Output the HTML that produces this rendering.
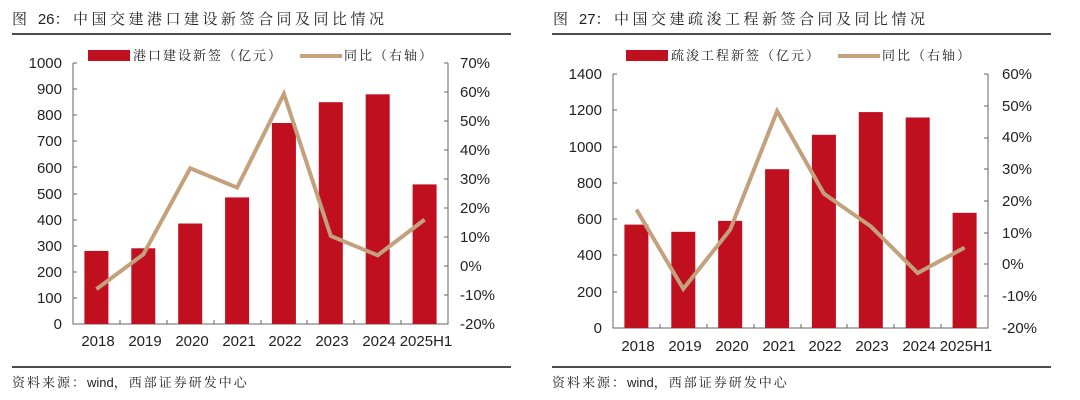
<!DOCTYPE html>
<html><head><meta charset="utf-8"><style>
html,body{margin:0;padding:0;background:#fff}
svg{display:block}
text{font-family:"Liberation Sans","Noto Sans CJK SC",sans-serif;fill:#222}
.cj{font-family:"Noto Serif CJK SC","Noto Sans CJK SC",serif}
.t{letter-spacing:3.5px}
.l{letter-spacing:2px}
.s{letter-spacing:2px}
</style></head><body>
<svg width="1080" height="400" viewBox="0 0 1080 400">
<!-- LEFT -->
<text x="12" y="24" font-size="15" class="cj t">图 <tspan font-family="Liberation Sans" letter-spacing="0">26</tspan>：中国交建港口建设新签合同及同比情况</text>
<line x1="12" y1="34" x2="511" y2="34" stroke="#111" stroke-width="1.5"/>
<rect x="88" y="50" width="42" height="11" fill="#c00f1e"/>
<text x="133" y="60" font-size="13" class="cj l">港口建设新签（亿元）</text>
<line x1="300" y1="56" x2="342" y2="56" stroke="#c3a17c" stroke-width="4"/>
<text x="344" y="60" font-size="13" class="cj l">同比（右轴）</text>
<g font-size="15" text-anchor="end">
<text x="62" y="329">0</text><text x="62" y="303">100</text><text x="62" y="277">200</text><text x="62" y="251">300</text><text x="62" y="225">400</text><text x="62" y="199">500</text><text x="62" y="173">600</text><text x="62" y="146">700</text><text x="62" y="120">800</text><text x="62" y="94">900</text><text x="62" y="68">1000</text>
</g>
<g font-size="15">
<text x="460" y="329">-20%</text><text x="460" y="300">-10%</text><text x="460" y="271">0%</text><text x="460" y="242">10%</text><text x="460" y="213">20%</text><text x="460" y="184">30%</text><text x="460" y="155">40%</text><text x="460" y="126">50%</text><text x="460" y="97">60%</text><text x="460" y="68">70%</text>
</g>
<g stroke="#666" stroke-width="1" fill="none">
<path d="M73 63V324H448V63"/>
<path d="M73 63h4M73 89h4M73 115h4M73 141h4M73 167h4M73 194h4M73 220h4M73 246h4M73 272h4M73 298h4"/>
<path d="M448 63h-4M448 92h-4M448 121h-4M448 150h-4M448 179h-4M448 208h-4M448 237h-4M448 266h-4M448 295h-4"/>
<path d="M120 324v-4M167 324v-4M214 324v-4M261 324v-4M307 324v-4M354 324v-4M401 324v-4"/>
</g>
<g fill="#c00f1e">
<rect x="84.4" y="250.9" width="24" height="73.1"/><rect x="131.3" y="248.3" width="24" height="75.7"/><rect x="178.2" y="223.5" width="24" height="100.5"/><rect x="225.1" y="197.4" width="24" height="126.6"/><rect x="271.9" y="123" width="24" height="201"/><rect x="318.8" y="102.2" width="24" height="221.8"/><rect x="365.7" y="94.3" width="24" height="229.7"/><rect x="412.6" y="184.4" width="24" height="139.6"/>
</g>
<polyline points="96.4,289.2 143.3,254.4 190.2,168.3 237.1,187.6 283.9,93.9 330.8,236 377.7,255.3 424.6,219.6" fill="none" stroke="#c3a17c" stroke-width="4" stroke-linejoin="miter"/>
<g font-size="15" text-anchor="middle">
<text x="98" y="346">2018</text><text x="145" y="346">2019</text><text x="192" y="346">2020</text><text x="239" y="346">2021</text><text x="285" y="346">2022</text><text x="332" y="346">2023</text><text x="379" y="346">2024</text><text x="426" y="346">2025H1</text>
</g>
<line x1="12" y1="367" x2="511" y2="367" stroke="#111" stroke-width="1.5"/>
<text x="12" y="387" font-size="13" class="cj s">资料来源：<tspan font-family="Liberation Sans" letter-spacing="0">wind</tspan>，西部证券研发中心</text>

<!-- RIGHT -->
<text x="553" y="24" font-size="15" class="cj t">图 <tspan font-family="Liberation Sans" letter-spacing="0">27</tspan>：中国交建疏浚工程新签合同及同比情况</text>
<line x1="552" y1="34" x2="1051" y2="34" stroke="#111" stroke-width="1.5"/>
<rect x="626" y="50" width="42" height="11" fill="#c00f1e"/>
<text x="671" y="60" font-size="13" class="cj l">疏浚工程新签（亿元）</text>
<line x1="838" y1="56" x2="880" y2="56" stroke="#c3a17c" stroke-width="4"/>
<text x="882" y="60" font-size="13" class="cj l">同比（右轴）</text>
<g font-size="15" text-anchor="end">
<text x="602" y="333">0</text><text x="602" y="297">200</text><text x="602" y="260">400</text><text x="602" y="224">600</text><text x="602" y="188">800</text><text x="602" y="152">1000</text><text x="602" y="115">1200</text><text x="602" y="79">1400</text>
</g>
<g font-size="15">
<text x="1002" y="333">-20%</text><text x="1002" y="301">-10%</text><text x="1002" y="269">0%</text><text x="1002" y="238">10%</text><text x="1002" y="206">20%</text><text x="1002" y="174">30%</text><text x="1002" y="142">40%</text><text x="1002" y="111">50%</text><text x="1002" y="79">60%</text>
</g>
<g stroke="#666" stroke-width="1" fill="none">
<path d="M613 74V328H988V74"/>
<path d="M613 74h4M613 110h4M613 147h4M613 183h4M613 219h4M613 255h4M613 292h4"/>
<path d="M988 74h-4M988 106h-4M988 138h-4M988 169h-4M988 201h-4M988 233h-4M988 264h-4M988 296h-4"/>
<path d="M660 328v-4M707 328v-4M754 328v-4M801 328v-4M847 328v-4M894 328v-4M941 328v-4"/>
</g>
<g fill="#c00f1e">
<rect x="624.4" y="224.6" width="24" height="103.4"/><rect x="671.3" y="231.8" width="24" height="96.2"/><rect x="718.2" y="220.9" width="24" height="107.1"/><rect x="765.1" y="169.2" width="24" height="158.8"/><rect x="811.9" y="134.8" width="24" height="193.2"/><rect x="858.8" y="112.1" width="24" height="215.9"/><rect x="905.7" y="117.5" width="24" height="210.5"/><rect x="952.6" y="212.8" width="24" height="115.2"/>
</g>
<polyline points="636.4,209.5 683.3,288.9 730.2,229.6 777.1,111.1 823.9,193.6 870.8,226.4 917.7,273 964.6,247.6" fill="none" stroke="#c3a17c" stroke-width="4"/>
<g font-size="15" text-anchor="middle">
<text x="638" y="351">2018</text><text x="685" y="351">2019</text><text x="732" y="351">2020</text><text x="779" y="351">2021</text><text x="825" y="351">2022</text><text x="872" y="351">2023</text><text x="919" y="351">2024</text><text x="966" y="351">2025H1</text>
</g>
<line x1="552" y1="367" x2="1051" y2="367" stroke="#111" stroke-width="1.5"/>
<text x="552" y="387" font-size="13" class="cj s">资料来源：<tspan font-family="Liberation Sans" letter-spacing="0">wind</tspan>，西部证券研发中心</text>
</svg>
</body></html>
